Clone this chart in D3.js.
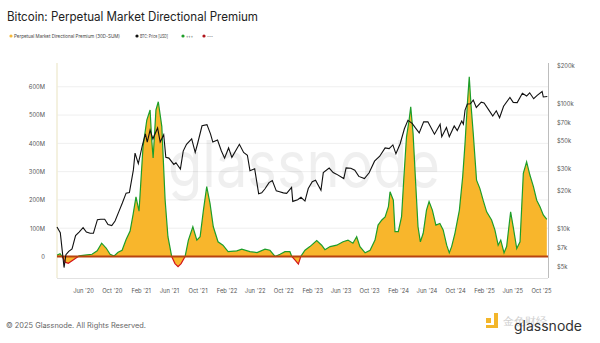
<!DOCTYPE html>
<html>
<head>
<meta charset="utf-8">
<script src="https://cdn.jsdelivr.net/npm/d3@7"></script>
<style>
  body { margin: 0; background: #fff; }
  svg { display: block; font-family: "Inter", "Liberation Sans", sans-serif; }
</style>
</head>
<body>
<svg width="600" height="343"></svg>
<script>
// BTC price, USD
let priceDates = ["2020-02-11","2020-02-25","2020-03-12","2020-03-20","2020-04-01","2020-04-15","2020-04-30","2020-05-15","2020-06-01","2020-06-15","2020-07-01","2020-07-15","2020-08-01","2020-08-15","2020-09-01","2020-09-15","2020-10-01","2020-10-15","2020-11-01","2020-11-15","2020-12-01","2020-12-15","2021-01-01","2021-01-08","2021-01-22","2021-02-08","2021-02-21","2021-03-01","2021-03-13","2021-03-25","2021-04-14","2021-04-25","2021-05-10","2021-05-19","2021-06-01","2021-06-22","2021-07-01","2021-07-20","2021-08-01","2021-08-15","2021-09-06","2021-09-21","2021-10-01","2021-10-20","2021-11-10","2021-11-25","2021-12-05","2021-12-25","2022-01-10","2022-01-24","2022-02-10","2022-02-24","2022-03-28","2022-04-15","2022-05-01","2022-05-12","2022-06-01","2022-06-18","2022-07-01","2022-07-15","2022-08-01","2022-08-15","2022-09-01","2022-09-15","2022-10-01","2022-10-15","2022-11-05","2022-11-10","2022-12-01","2022-12-15","2023-01-01","2023-01-15","2023-02-01","2023-02-15","2023-03-10","2023-03-20","2023-04-14","2023-05-01","2023-05-15","2023-06-15","2023-06-25","2023-07-15","2023-08-01","2023-08-18","2023-09-11","2023-10-01","2023-10-24","2023-11-15","2023-12-08","2023-12-25","2024-01-10","2024-01-23","2024-02-10","2024-02-28","2024-03-14","2024-04-01","2024-04-15","2024-05-01","2024-05-20","2024-06-07","2024-06-25","2024-07-05","2024-07-29","2024-08-05","2024-08-25","2024-09-06","2024-09-27","2024-10-10","2024-10-29","2024-11-05","2024-11-12","2024-11-22","2024-12-05","2024-12-17","2024-12-30","2025-01-20","2025-02-01","2025-02-25","2025-03-10","2025-03-25","2025-04-08","2025-04-25","2025-05-22","2025-06-05","2025-06-22","2025-07-14","2025-08-01","2025-08-14","2025-08-31","2025-09-15","2025-10-06","2025-10-11","2025-10-28"];
let priceValues = [10300,9300,4900,6200,6600,6900,8800,9400,10200,9400,9200,9200,11800,11900,11900,10800,10600,11500,13800,16000,19200,19400,29400,40000,33000,46000,57000,49000,61000,52000,63500,49000,56000,37000,36500,32500,33500,29800,41500,47000,52000,40500,47500,66000,67500,57000,49000,50800,41800,36500,44000,37000,47000,40500,38500,29000,30000,19000,19300,20800,23300,24200,20000,19700,19300,19100,21300,16500,17000,17800,16600,20900,23700,24300,20200,28000,30400,28000,27200,25100,30500,30300,29200,26100,25100,27900,34500,37800,44000,43500,46500,39500,47500,62500,73000,69000,63500,58000,71000,71000,61500,56600,68000,54000,64000,54000,65800,60500,72000,68000,88000,98500,99000,106000,92500,102000,100500,86000,79000,87000,76500,94500,111000,101500,101000,120000,114000,121000,108500,115500,124000,112000,113000];

// Perpetual Market Directional Premium, 30D-SUM, millions USD
let premDates = ["2020-02-11","2020-02-24","2020-03-08","2020-03-17","2020-03-30","2020-04-15","2020-05-02","2020-05-15","2020-06-09","2020-07-09","2020-07-31","2020-08-19","2020-09-07","2020-09-24","2020-10-11","2020-10-28","2020-11-14","2020-12-01","2020-12-18","2020-12-31","2021-01-12","2021-01-25","2021-02-11","2021-02-27","2021-03-13","2021-03-20","2021-03-26","2021-04-07","2021-04-17","2021-05-02","2021-05-16","2021-05-28","2021-06-13","2021-06-27","2021-07-10","2021-07-23","2021-08-09","2021-08-23","2021-09-11","2021-09-28","2021-10-12","2021-10-26","2021-11-09","2021-11-23","2021-12-07","2021-12-27","2022-01-17","2022-02-08","2022-03-17","2022-04-07","2022-05-12","2022-06-11","2022-07-15","2022-08-05","2022-08-27","2022-09-17","2022-10-08","2022-10-29","2022-11-06","2022-11-20","2022-12-04","2022-12-14","2023-01-01","2023-01-22","2023-02-20","2023-03-13","2023-03-27","2023-04-18","2023-05-16","2023-06-12","2023-07-03","2023-07-24","2023-08-09","2023-08-23","2023-09-14","2023-10-05","2023-10-26","2023-11-08","2023-11-24","2023-12-08","2023-12-22","2023-12-29","2024-01-12","2024-01-19","2024-02-02","2024-02-16","2024-02-26","2024-03-08","2024-03-19","2024-03-26","2024-04-05","2024-04-16","2024-04-26","2024-05-06","2024-05-18","2024-06-01","2024-06-12","2024-06-26","2024-07-11","2024-07-28","2024-08-11","2024-08-26","2024-09-06","2024-09-16","2024-09-30","2024-10-19","2024-11-02","2024-11-12","2024-11-22","2024-11-30","2024-12-07","2024-12-17","2024-12-31","2025-01-14","2025-01-28","2025-02-12","2025-03-05","2025-03-19","2025-04-02","2025-04-13","2025-04-27","2025-05-08","2025-05-25","2025-06-05","2025-06-20","2025-07-04","2025-07-18","2025-08-01","2025-08-15","2025-08-30","2025-09-13","2025-09-27","2025-10-11","2025-10-26"];
let premValues = [5,10,-5,-20,-24,-15,-5,2,5,8,20,47,30,8,2,15,22,60,90,150,211,160,388,482,518,412,348,518,547,459,200,70,0,-25,-36,-25,0,58,105,58,70,164,247,188,105,52,40,17,20,26,17,14,26,22,0,8,17,17,0,-13,-27,0,22,35,56,40,24,35,40,52,58,47,70,35,13,22,58,111,129,140,176,229,199,88,88,141,282,423,482,529,435,259,105,52,82,164,194,164,111,117,94,40,13,35,82,164,282,400,541,635,541,435,270,241,199,158,129,94,40,58,13,35,158,105,28,52,294,335,288,247,199,176,147,131];

// tick labels
let leftTicks = [0, 100, 200, 300, 400, 500, 600];
let rightTicks = [5000, 7000, 10000, 20000, 30000, 50000, 70000, 100000, 200000];

let parse = d3.timeParse("%Y-%m-%d");
let price = priceDates.map((d, i) => ({date: parse(d), value: priceValues[i]}));
let prem = premDates.map((d, i) => ({date: parse(d), value: premValues[i]}));

// plot box
let plotLeft = 57, plotRight = 548, plotTop = 63, plotBottom = 278;

let svg = d3.select("svg");

let x = d3.scaleTime()
    .domain([parse("2020-02-11"), parse("2025-10-31")])
    .range([plotLeft, plotRight]);

let yL = d3.scaleLinear().domain([-76, 684]).range([plotBottom, plotTop]);
let yR = d3.scaleLog().domain([4046, 209000]).range([plotBottom, plotTop]);

// title + legend
svg.append("text")
    .attr("x", 7).attr("y", 21)
    .attr("font-size", 12.5).attr("fill", "#222")
    .attr("textLength", 251).attr("lengthAdjust", "spacingAndGlyphs")
    .text("Bitcoin: Perpetual Market Directional Premium");

let legend = [
    {label: "Perpetual Market Directional Premium (30D-SUM)", color: "#f5b93a", x: 11, w: 106},
    {label: "BTC: Price [USD]", color: "#111", x: 137, w: 28},
    {label: "+++", color: "#1e9e2a", x: 183, w: 7},
    {label: "---", color: "#b0141b", x: 204, w: 6}
];
let lg = svg.append("g").selectAll("g").data(legend).enter().append("g");
lg.append("circle").attr("cx", d => d.x).attr("cy", 36).attr("r", 1.6).attr("fill", d => d.color);
lg.append("text").attr("x", d => d.x + 3).attr("y", 37.8)
    .attr("font-size", 4.9).attr("fill", "#444")
    .attr("textLength", d => d.w).attr("lengthAdjust", "spacingAndGlyphs")
    .text(d => d.label);

// frame + grid
svg.append("g").selectAll("line").data(leftTicks.filter(t => t > 0)).enter().append("line")
    .attr("x1", plotLeft).attr("x2", plotRight)
    .attr("y1", d => yL(d)).attr("y2", d => yL(d))
    .attr("stroke", "#efefef").attr("stroke-width", 1);

svg.append("line").attr("x1", plotLeft).attr("x2", plotRight).attr("y1", plotBottom + 0.5).attr("y2", plotBottom + 0.5)
    .attr("stroke", "#e2e2e2");
svg.append("line").attr("x1", plotLeft).attr("x2", plotLeft).attr("y1", plotTop).attr("y2", plotBottom)
    .attr("stroke", "#f1ecd6").attr("stroke-width", 1.5);
svg.append("line").attr("x1", plotRight + 0.5).attr("x2", plotRight + 0.5).attr("y1", plotTop).attr("y2", plotBottom)
    .attr("stroke", "#bdbdbd");

// watermark
svg.append("text")
    .attr("x", 168).attr("y", 187)
    .attr("font-size", 64).attr("fill", "#000").attr("opacity", 0.06)
    .attr("textLength", 272).attr("lengthAdjust", "spacingAndGlyphs")
    .text("glassnode");

// premium area
let area = d3.area()
    .x(d => x(d.date))
    .y0(yL(0))
    .y1(d => yL(d.value));

svg.append("path")
    .datum(prem)
    .attr("d", area)
    .attr("fill", "#f8b62c");

// premium line, green above zero / red below
let defs = svg.append("defs");
defs.append("clipPath").attr("id", "above").append("rect")
    .attr("x", plotLeft).attr("y", plotTop).attr("width", plotRight - plotLeft).attr("height", yL(0) - plotTop);
defs.append("clipPath").attr("id", "below").append("rect")
    .attr("x", plotLeft).attr("y", yL(0)).attr("width", plotRight - plotLeft).attr("height", plotBottom - yL(0));

let line = d3.line().x(d => x(d.date)).y(d => yL(d.value));

svg.append("path").datum(prem).attr("d", line)
    .attr("fill", "none").attr("stroke", "#1e9e2a").attr("stroke-width", 1.2)
    .attr("clip-path", "url(#above)");
svg.append("path").datum(prem).attr("d", line)
    .attr("fill", "none").attr("stroke", "#d4141b").attr("stroke-width", 1.2)
    .attr("clip-path", "url(#below)");

// zero line
svg.append("line").attr("x1", plotLeft).attr("x2", plotRight).attr("y1", yL(0)).attr("y2", yL(0))
    .attr("stroke", "#b8440f").attr("stroke-width", 1.8);

// BTC price line
let priceLine = d3.line().x(d => x(d.date)).y(d => yR(d.value));
svg.append("path").datum(price).attr("d", priceLine)
    .attr("fill", "none").attr("stroke", "#111").attr("stroke-width", 1.1);

// axes
let axisL = svg.append("g")
    .attr("transform", "translate(" + (plotLeft - 9) + ",0)")
    .call(d3.axisLeft(yL).tickValues(leftTicks).tickSize(0).tickFormat(d => d === 0 ? "0" : d + "M"));

let axisR = svg.append("g")
    .attr("transform", "translate(" + (plotRight + 6) + ",0)")
    .call(d3.axisRight(yR).tickValues(rightTicks).tickSize(0).tickFormat(d => "$" + (d / 1000) + "k"));

let axisX = svg.append("g")
    .attr("transform", "translate(0," + (plotBottom + 8) + ")")
    .call(d3.axisBottom(x).ticks(d3.timeMonth.filter(d => d.getMonth() % 4 === 1)).tickSize(0)
        .tickFormat(d3.timeFormat("%b '%y")));

[axisL, axisR, axisX].forEach(a => {
    a.select(".domain").remove();
    a.selectAll("text").attr("font-size", 5.8).attr("fill", "#555").attr("font-family", "Inter, sans-serif");
});

// footer
svg.append("text")
    .attr("x", 6).attr("y", 328)
    .attr("font-size", 7.2).attr("fill", "#666")
    .attr("textLength", 140).attr("lengthAdjust", "spacingAndGlyphs")
    .text("\u00a9 2025 Glassnode. All Rights Reserved.");

svg.append("path")
    .attr("d", "M486,318 h5 v5 h-5 Z M494,313 h4 v15 h-12 v-3 h8 Z")
    .attr("fill", "#f3b62a");
svg.append("text")
    .attr("x", 503).attr("y", 325)
    .attr("font-size", 11).attr("fill", "#d0d0d0")
    .text("金色财经");
svg.append("text")
    .attr("x", 514).attr("y", 331)
    .attr("font-size", 14).attr("fill", "#333")
    .text("glassnode");
</script>
</body>
</html>
